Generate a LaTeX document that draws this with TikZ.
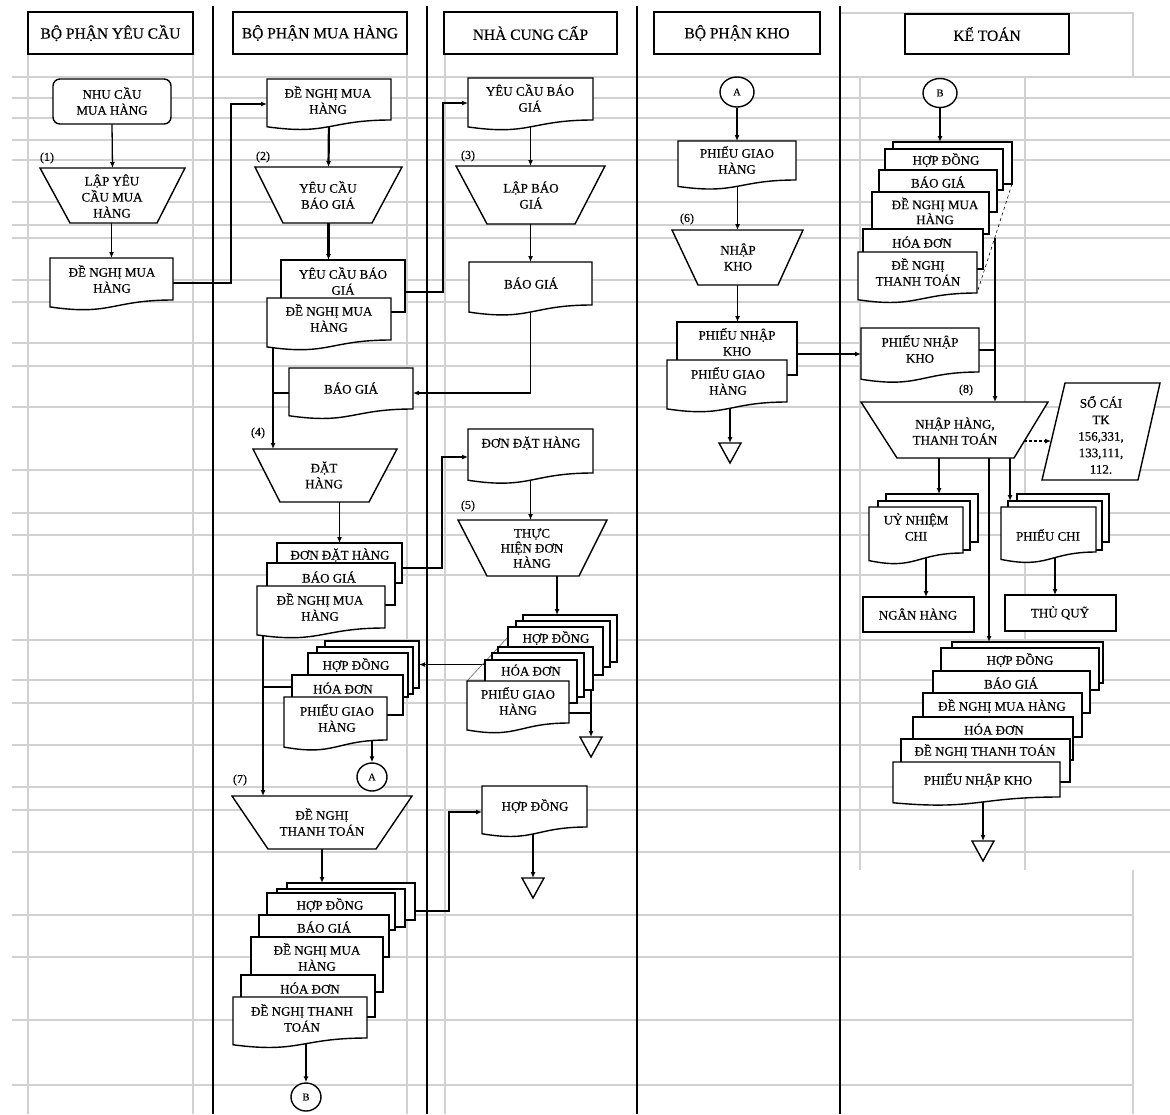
\documentclass[tikz,border=0pt]{standalone}
\usepackage{fontspec}
\setmainfont{Liberation Serif}[FakeBold=0.35]
\usetikzlibrary{arrows.meta,shapes.geometric}
\pgfdeclarelayer{grid}
\pgfdeclarelayer{links}
\pgfsetlayers{grid,links,main}
\tikzset{
  shp/.style={draw=black,line width=1.4pt,fill=white,line join=miter},
  shapearea/.style={inner sep=0pt,outer sep=0pt,draw=none,rectangle},
  txt/.style={font=\fontsize{13}{16}\selectfont,align=center,inner sep=0pt},
  hdr/.style={font=\fontsize{15.5}{18}\selectfont,inner sep=0pt},
  lbl/.style={font=\fontsize{12}{14}\selectfont,inner sep=0pt},
  circ/.style={shp,ellipse,inner sep=0pt,font=\fontsize{10.5}{12}\selectfont},
  conn/.style={line width=1.3pt},
  arr/.style={conn,-{Latex[length=6pt,width=5pt]}},
  heavy/.style={line width=2.2pt},
  gridline/.style={draw=black!18,line width=1.5pt},
  laneline/.style={line width=1.6pt},
  thinlink/.style={line width=0.6pt},
}
% invisible frame node covering a shape, used for naming and anchors
\newcommand\areanode[5]{\path (#2,#3) -- (#4,#5) node[midway,shapearea,minimum width={#4-#2},minimum height={#5-#3}] (#1) {};}
% plain process box
\newcommand\rectat[5]{\draw[shp] (#2,#3) rectangle (#4,#5);\areanode{#1}{#2}{#3}{#4}{#5}}
% rounded terminal box
\newcommand\roundat[5]{\draw[shp,rounded corners=7pt] (#2,#3) rectangle (#4,#5);\areanode{#1}{#2}{#3}{#4}{#5}}
% document symbol: x1,y1 top left; x2,y2 bottom of the right edge
\newcommand\docat[5]{%
  \pgfmathsetmacro\docH{(#5-#3)/0.802}%
  \pgfmathsetmacro\docL{#3+0.934*\docH}%
  \pgfmathsetmacro\docC{#3+1.107*\docH}%
  \pgfmathsetmacro\docM{(#2+#4)/2}%
  \draw[shp] (#2,#3) -- (#4,#3) -- (#4,#5) .. controls (\docM,#5) and (\docM,\docC) .. (#2,\docL) -- cycle;
  \areanode{#1}{#2}{#3}{#4}{#5}}
% manual operation: name, top y, top left x, top right x, bottom y, bottom left x, bottom right x
\newcommand\trapat[7]{%
  \draw[shp] (#3,#2) -- (#4,#2) -- (#7,#5) -- (#6,#5) -- cycle;
  \areanode{#1}{#3}{#2}{#4}{#5}}
% storage triangle: name, centre x, top y
\newcommand\triat[3]{%
  \pgfmathsetmacro\triL{#2-11}\pgfmathsetmacro\triR{#2+11}\pgfmathsetmacro\triB{#3+20}%
  \draw[shp] (\triL,#3) -- (\triR,#3) -- (#2,\triB) -- cycle;
  \areanode{#1}{\triL}{#3}{\triR}{\triB}}
\begin{document}
\begin{tikzpicture}[x=1pt,y=-1pt]
\useasboundingbox (0,0) rectangle (1170,1114);
% ---------- sheet grid and swimlane separators ----------
\begin{pgfonlayer}{grid}
  \fill[white] (0,0) rectangle (1170,1114);
  \foreach \gy in {77,98,118,140,160,202,225,238,280,302,343,366,407,470,513,535,575,640,680,703,745,787,810,852}
    \draw[gridline] (12,\gy) -- (1170,\gy);
  \foreach \gy in {915,957,1020,1085}
    \draw[gridline] (12,\gy) -- (1133,\gy);
  \foreach \gx in {28,193,407,445}
    \draw[gridline] (\gx,54) -- (\gx,1114);
  \foreach \gx in {860,1025}
    \draw[gridline] (\gx,77) -- (\gx,870);
  \draw[gridline] (840,13) -- (1133,13) -- (1133,77);
  \draw[gridline] (1133,870) -- (1133,1114);
  \foreach \lx in {213,427,637,840}
    \draw[laneline] (\lx,6) -- (\lx,1114);
\end{pgfonlayer}

% ---------- lane headers ----------
\rectat{hd1}{28}{12}{193}{54}   \node[hdr] (hd1-t) at (hd1) {BỘ PHẬN YÊU CẦU};
\rectat{hd2}{233}{12}{407}{54}  \node[hdr] (hd2-t) at (hd2) {BỘ PHẬN MUA HÀNG};
\rectat{hd3}{444}{12}{617}{54}  \node[hdr] (hd3-t) at (hd3) {NHÀ CUNG CẤP};
\rectat{hd4}{654}{12}{820}{54}  \node[hdr] (hd4-t) at (hd4) {BỘ PHẬN KHO};
\rectat{hd5}{905}{14}{1069}{54} \node[hdr] (hd5-t) at (hd5) {KẾ TOÁN};

% ---------- requesting department ----------
\roundat{ya1}{53}{79}{171}{124}        \node[txt] (ya1-t) at (112,101) {NHU CẦU\\MUA HÀNG};
\node[lbl] (s1) at (47,158) {(1)};
\trapat{ya2}{168}{40}{185}{223}{70}{157} \node[txt] (ya2-t) at (112,196) {LẬP YÊU\\CẦU MUA\\HÀNG};
\docat{ya3}{50}{258}{173}{300}         \node[txt] (ya3-t) at (112,279) {ĐỀ NGHỊ MUA\\HÀNG};

% ---------- purchasing department ----------
\docat{mh1}{267}{79}{391}{120}          \node[txt] (mh1-t) at (328,100) {ĐỀ NGHỊ MUA\\HÀNG};
\node[lbl] (s2) at (263,157) {(2)};
\trapat{mh2}{167}{255}{402}{223}{283}{372} \node[txt] (mh2-t) at (328,195) {YÊU CẦU\\BÁO GIÁ};
\rectat{mh3b}{281}{260}{405}{312}       \node[txt] (mh3b-t) at (343,281) {YÊU CẦU BÁO\\GIÁ};
\docat{mh3f}{267}{298}{391}{340}        \node[txt] (mh3f-t) at (329,318) {ĐỀ NGHỊ MUA\\HÀNG};
\docat{mh4}{289}{368}{413}{409}         \node[txt] (mh4-t) at (351,388) {BÁO GIÁ};
\node[lbl] (s4) at (258,433) {(4)};
\trapat{mh5}{449}{253}{397}{502}{280}{369} \node[txt] (mh5-t) at (324,475) {ĐẶT\\HÀNG};
\rectat{mh6a}{277}{543}{402}{583}       \node[txt] (mh6a-t) at (340,555) {ĐƠN ĐẶT HÀNG};
\rectat{mh6b}{267}{563}{395}{605}       \node[txt] (mh6b-t) at (329,577) {BÁO GIÁ};
\docat{mh6c}{257}{586}{385}{628}        \node[txt] (mh6c-t) at (320,607) {ĐỀ NGHỊ MUA\\HÀNG};
\rectat{mh7a}{325}{641}{419}{688}
\rectat{mh7b}{317}{647}{413}{694}
\rectat{mh7c}{308}{653}{408}{697}       \node[txt] (mh7c-t) at (356,665) {HỢP ĐỒNG};
\rectat{mh7d}{292}{675}{403}{715}       \node[txt] (mh7d-t) at (343,688) {HÓA ĐƠN};
\docat{mh7e}{284}{697}{387}{740}        \node[txt] (mh7e-t) at (337,718) {PHIẾU GIAO\\HÀNG};
\node[circ,minimum width=30pt,minimum height=28pt] (mhA) at (372,777) {A};
\node[lbl] (s7) at (240,780) {(7)};
\trapat{mh8}{796}{232}{412}{849}{268}{376} \node[txt] (mh8-t) at (322,822) {ĐỀ NGHỊ\\THANH TOÁN};
\rectat{mh9a}{287}{883}{415}{920}
\rectat{mh9b}{277}{889}{405}{927}
\rectat{mh9c}{267}{893}{395}{930}       \node[txt] (mh9c-t) at (330,905) {HỢP ĐỒNG};
\rectat{mh9d}{259}{915}{389}{957}       \node[txt] (mh9d-t) at (324,927) {BÁO GIÁ};
\rectat{mh9e}{251}{937}{383}{992}       \node[txt] (mh9e-t) at (317,957) {ĐỀ NGHỊ MUA\\HÀNG};
\rectat{mh9f}{241}{975}{375}{1017}      \node[txt] (mh9f-t) at (310,988) {HÓA ĐƠN};
\docat{mh9g}{233}{997}{367}{1038}       \node[txt] (mh9g-t) at (302,1018) {ĐỀ NGHỊ THANH\\TOÁN};
\node[circ,minimum width=30pt,minimum height=28pt] (mhB) at (306,1097) {B};

% ---------- supplier ----------
\docat{ncc1}{468}{78}{593}{120}         \node[txt] (ncc1-t) at (530,98) {YÊU CẦU BÁO\\GIÁ};
\node[lbl] (s3) at (468,156) {(3)};
\trapat{ncc2}{166}{456}{605}{224}{487}{575} \node[txt] (ncc2-t) at (531,195) {LẬP BÁO\\GIÁ};
\docat{ncc3}{469}{262}{592}{305}        \node[txt] (ncc3-t) at (531,283) {BÁO GIÁ};
\docat{ncc4}{468}{429}{593}{473}        \node[txt] (ncc4-t) at (531,443) {ĐƠN ĐẶT HÀNG};
\node[lbl] (s5) at (468,506) {(5)};
\trapat{ncc5}{520}{458}{607}{576}{487}{579} \node[txt,font=\fontsize{13}{15}\selectfont] (ncc5-t) at (532,548) {THỰC\\HIỆN ĐƠN\\HÀNG};
\rectat{ncc7a}{523}{615}{617}{662}
\rectat{ncc7b}{516}{621}{610}{667}
\rectat{ncc7c}{508}{627}{603}{675}      \node[txt] (ncc7c-t) at (556,638) {HỢP ĐỒNG};
\rectat{ncc7d}{498}{647}{593}{690}
\rectat{ncc7e}{492}{653}{584}{697}
\rectat{ncc7f}{485}{660}{577}{703}      \node[txt] (ncc7f-t) at (531,670) {HÓA ĐƠN};
\docat{ncc7g}{467}{681}{569}{723}       \node[txt] (ncc7g-t) at (518,701) {PHIẾU GIAO\\HÀNG};
\triat{nccT}{591}{737}
\docat{ncc8}{482}{786}{587}{827}        \node[txt] (ncc8-t) at (535,806) {HỢP ĐỒNG};
\triat{nccT2}{533}{878}

% ---------- warehouse ----------
\node[circ,minimum width=34pt,minimum height=30pt] (khoA) at (737,92) {A};
\docat{kho1}{678}{141}{796}{180}        \node[txt] (kho1-t) at (737,160) {PHIẾU GIAO\\HÀNG};
\node[lbl] (s6) at (687,219) {(6)};
\trapat{kho2}{230}{672}{803}{285}{698}{778} \node[txt] (kho2-t) at (738,257) {NHẬP\\KHO};
\rectat{kho3a}{677}{322}{797}{375}      \node[txt] (kho3a-t) at (737,342) {PHIẾU NHẬP\\KHO};
\docat{kho3b}{667}{360}{787}{402}       \node[txt] (kho3b-t) at (728,381) {PHIẾU GIAO\\HÀNG};
\triat{khoT}{730}{443}

% ---------- accounting ----------
\node[circ,minimum width=34pt,minimum height=29pt] (ktB) at (940,93) {B};
\rectat{kt1a}{893}{142}{1012}{184}
\rectat{kt1b}{885}{149}{1003}{190}      \node[txt] (kt1b-t) at (946,160) {HỢP ĐỒNG};
\rectat{kt1c}{879}{170}{997}{212}       \node[txt] (kt1c-t) at (938,182) {BÁO GIÁ};
\rectat{kt1d}{872}{192}{989}{234}       \node[txt,font=\fontsize{13}{15}\selectfont] (kt1d-t) at (935,211) {ĐỀ NGHỊ MUA\\HÀNG};
\rectat{kt1e}{863}{229}{983}{269}       \node[txt] (kt1e-t) at (922,242) {HÓA ĐƠN};
\docat{kt1f}{858}{252}{977}{293}        \node[txt] (kt1f-t) at (918,272) {ĐỀ NGHỊ\\THANH TOÁN};
\docat{kt2}{861}{328}{979}{372}         \node[txt] (kt2-t) at (920,349) {PHIẾU NHẬP\\KHO};
\node[lbl] (s8) at (966,390) {(8)};
\trapat{kt3}{402}{861}{1048}{458}{897}{1014} \node[txt] (kt3-t) at (955,431) {NHẬP HÀNG,\\THANH TOÁN};
\draw[shp] (1065,383) -- (1160,383) -- (1138,480) -- (1042,480) -- cycle;
\areanode{kt4}{1042}{383}{1160}{480}
\node[txt,font=\fontsize{13}{16.5}\selectfont] (kt4-t) at (1101,435) {SỔ CÁI\\TK\\156,331,\\133,111,\\112.};
\rectat{kt5a}{886}{494}{978}{542}
\rectat{kt5b}{878}{501}{970}{550}
\docat{kt5c}{869}{507}{963}{553}        \node[txt] (kt5c-t) at (916,527) {UỶ NHIỆM\\CHI};
\rectat{kt6}{863}{597}{974}{632}        \node[txt] (kt6-t) at (918,614) {NGÂN HÀNG};
\rectat{kt7a}{1017}{494}{1109}{542}
\rectat{kt7b}{1008}{501}{1102}{550}
\docat{kt7c}{1001}{507}{1096}{552}      \node[txt] (kt7c-t) at (1048,535) {PHIẾU CHI};
\rectat{kt8}{1005}{595}{1116}{631}      \node[txt] (kt8-t) at (1060,613) {THỦ QUỸ};
\rectat{kt9a}{952}{642}{1103}{683}
\rectat{kt9b}{941}{648}{1099}{690}      \node[txt] (kt9b-t) at (1020,660) {HỢP ĐỒNG};
\rectat{kt9c}{933}{671}{1090}{713}      \node[txt] (kt9c-t) at (1011,683) {BÁO GIÁ};
\rectat{kt9d}{923}{693}{1082}{737}      \node[txt] (kt9d-t) at (1002,706) {ĐỀ NGHỊ MUA HÀNG};
\rectat{kt9e}{913}{717}{1073}{760}      \node[txt] (kt9e-t) at (994,729) {HÓA ĐƠN};
\rectat{kt9f}{901}{739}{1070}{782}      \node[txt] (kt9f-t) at (985,751) {ĐỀ NGHỊ THANH TOÁN};
\docat{kt9g}{893}{762}{1060}{797}       \node[txt] (kt9g-t) at (978,780) {PHIẾU NHẬP KHO};
\triat{ktT}{983}{841}

% ---------- bend and junction points ----------
\coordinate (b1) at (231,200);
\coordinate (b2) at (443,200);
\coordinate (b3) at (442,510);
\coordinate (b4) at (449,860);
\coordinate (v1) at (273,393);
\coordinate (v2) at (263,687);
\coordinate (v3) at (557,600);
\coordinate (v4) at (591,713);
\coordinate (h1) at (800,354);
\coordinate (v5) at (995,238);
\coordinate (h2) at (1024,441);
\coordinate (h3) at (1051,441);
\coordinate (v6) at (939,480);
\coordinate (v7) at (1010,480);
\coordinate (v8) at (989,480);
\coordinate (v9) at (926,580);
\coordinate (v10) at (1055,580);

% ---------- connectors ----------
\begin{pgfonlayer}{links}
  % requesting department
  \draw[arr] (ya1.south) -- (ya2.north);
  \draw[arr] (ya3.north |- ya2.south) -- (ya3.north);
  \draw[arr] ([yshift=-4pt]ya3.east) -| (b1) |- ([yshift=-4.5pt]mh1.west);
  % purchasing department
  \draw[arr,heavy] (mh1.south) -- (mh2.north);
  \draw[arr,heavy] (mh2.south) -- (mh2.south |- mh3b.north);
  \draw[arr] ([yshift=-6pt]mh3b.east) -| (b2) |- ([yshift=-4pt]ncc1.west);
  \draw[arr] (v1 |- mh3f.south) -- (v1 |- mh5.north);
  \draw[conn] (v1 -| mh4.west) -- (v1);
  \draw[arr] (ncc3.south) |- (v1 -| mh4.east);
  \draw[arr] (mh6a.north |- mh5.south) -- (mh6a.north);
  \draw[arr] ([yshift=-5pt]mh6a.east) -| (b3) |- ([yshift=-6pt]ncc4.west);
  \draw[arr] (v2 |- mh6c.south) -- (v2 |- mh8.north);
  \draw[conn] (v2) -- (v2 -| mh7d.west);
  \draw[arr] (mh7a.east -| ncc7f.west) -- (mh7a.east);
  \draw[arr] (mhA.north |- mh7e.south) -- (mhA.north);
  \draw[arr] (mh8.south) -- (mh8.south |- mh9a.north);
  \draw[arr] ([yshift=-9.5pt]mh9a.east) -| (b4) |- ([yshift=-5.5pt]ncc8.west);
  \draw[arr] (mhB.north |- mh9g.south) -- (mhB.north);
  % supplier
  \draw[arr] (ncc1.south) -- (ncc2.north);
  \draw[arr] (ncc2.south) -- (ncc3.north);
  \draw[arr] (ncc4.south) -- (ncc4.south |- ncc5.north);
  \draw[arr] (v3 |- ncc5.south) -- (v3 |- ncc7a.north);
  \draw[thinlink,draw=black!60] ([yshift=-10pt]ncc7c.north west) -- (ncc7g.north west);
  \draw[conn] (v4 -| ncc7g.east) -- (v4);
  \draw[arr] (nccT.north |- ncc7d.south) -- (nccT.north);
  \draw[arr] (nccT2.north |- ncc8.south) -- (nccT2.north);
  % warehouse
  \draw[arr] (khoA.south) -- (kho1.north);
  \draw[arr] (kho2.north |- kho1.south) -- (kho2.north);
  \draw[arr] (kho2.south) -- (kho2.south |- kho3a.north);
  \draw[arr] (khoT.north |- kho3b.south) -- (khoT.north);
  \draw[arr] (h1 -| kho3a.east) -- (h1 -| kt2.west);
  % accounting
  \draw[arr] (ktB.south) -- (ktB.south |- kt1a.north);
  \draw[thinlink,dashed] (kt1a.south east) -- (kt1f.south east);
  \draw[arr] (v5) -- (v5 |- kt3.north);
  \draw[conn] (kt2.east) -- (kt2.east -| v5);
  \draw[arr,dash pattern=on 3pt off 2pt] (h2) -- (h3);
  \draw[arr] (v6 |- kt3.south) -- (v6 |- kt5a.north);
  \draw[arr] (v7 |- kt3.south) -- (v7 |- kt7b.north);
  \draw[arr] (v8 |- kt3.south) -- (v8 |- kt9a.north);
  \draw[arr] (v9 |- kt5c.south) -- (v9 |- kt6.north);
  \draw[arr] (v10 |- kt7c.south) -- (v10 |- kt8.north);
  \draw[arr] (ktT.north |- kt9g.south) -- (ktT.north);
\end{pgfonlayer}
\end{tikzpicture}
\end{document}
